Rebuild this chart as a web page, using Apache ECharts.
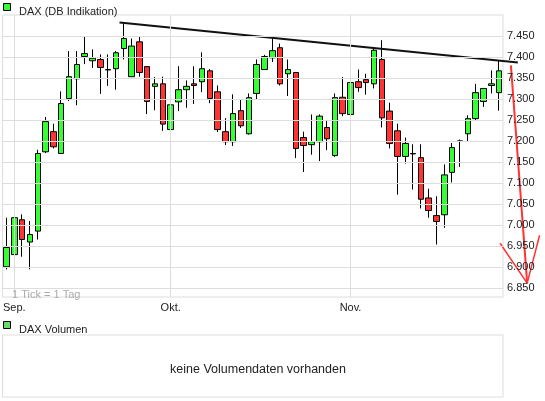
<!DOCTYPE html>
<html lang="de">
<head>
<meta charset="UTF-8">
<title>DAX (DB Indikation)</title>
<script src="https://cdn.jsdelivr.net/npm/echarts/dist/echarts.min.js"></script>
<style>
  html, body { margin: 0; padding: 0; background: #fff; }
  #chart { width: 545px; height: 401px; }
</style>
</head>
<body>
<div id="chart"></div>
<script>
// Tageskerzen 31.08. bis 27.11.
let openV  = [6900,6929,7012,6959,6985,7174,7222,7170,7301,7348,7401,7391,7394,7370,7372,7420,7353,7436,7377,7330,7336,7227,7293,7322,7336,7341,7367,7317,7222,7198,7272,7217,7313,7370,7398,7422,7360,7363,7208,7191,7198,7232,7165,7304,7263,7341,7346,7336,7394,7271,7224,7163,7170,7160,7064,7022,7024,7125,7199,7217,7253,7294,7332,7315];
let closeV = [6946,7017,6965,6977,7170,7246,7186,7289,7353,7382,7408,7397,7375,7369,7410,7444,7426,7363,7294,7336,7240,7286,7322,7330,7332,7372,7301,7227,7198,7265,7236,7303,7382,7401,7415,7336,7370,7182,7189,7198,7259,7205,7303,7265,7339,7327,7339,7416,7255,7194,7163,7194,7169,7061,7034,7008,7119,7184,7200,7253,7315,7325,7336,7367];
let lowV   = [6894,6924,6924,6894,6965,7171,7182,7170,7295,7285,7383,7374,7312,7331,7322,7394,7353,7353,7264,7273,7224,7205,7271,7279,7288,7316,7290,7221,7190,7188,7231,7215,7298,7370,7388,7332,7307,7159,7126,7167,7152,7178,7162,7259,7249,7317,7310,7325,7232,7182,7072,7146,7084,7039,7017,6953,6993,7101,7138,7198,7248,7281,7313,7272];
let highV  = [7017,7025,7025,7009,7179,7257,7241,7318,7414,7414,7449,7418,7406,7406,7414,7479,7444,7449,7377,7352,7353,7344,7378,7344,7378,7411,7371,7332,7254,7311,7299,7313,7394,7405,7444,7432,7394,7363,7222,7263,7263,7249,7313,7352,7360,7370,7360,7424,7440,7291,7241,7208,7192,7192,7086,7068,7144,7195,7203,7261,7336,7325,7368,7392];
let days = openV.map((v, i) => String(i));
let monthLabels = { 1: 'Sep.', 21: 'Okt.', 44: 'Nov.' };
let yTicks = [6850,6900,6950,7000,7050,7100,7150,7200,7250,7300,7350,7400,7450];
// Zeichnungen (Index, Wert)
let trendLine = [[14.6, 7482], [66, 7387]];
let redStroke = [[65.1, 7380], [65.9, 7182], [67.2, 6861]];
let redArms = [[63.7, 6956], [67.2, 6861], [68.8, 6975]];

let candles = openV.map((o, i) => [o, closeV[i], lowV[i], highV[i]]);
let fmt = v => (v / 1000).toFixed(3);
let txt = { fontFamily: 'Liberation Sans, Arial, sans-serif', fontSize: 11, color: '#222' };
let band = 500.5 / openV.length;

let chart = echarts.init(document.getElementById('chart'));
chart.setOption({
  animation: false,
  title: [
    { text: 'DAX (DB Indikation)', left: 14, top: 1, textStyle: Object.assign({ fontWeight: 'normal' }, txt) },
    { text: 'DAX Volumen', left: 14, top: 319, textStyle: Object.assign({ fontWeight: 'normal' }, txt) },
    { text: 'keine Volumendaten vorhanden', left: 253, top: 358, textAlign: 'center', textStyle: Object.assign({ fontWeight: 'normal' }, txt, { fontSize: 12.5 }) },
    { text: '1 Tick = 1 Tag', left: 7, top: 284, textStyle: Object.assign({ fontWeight: 'normal' }, txt, { color: '#aaa' }) }
  ],
  graphic: [
    { type: 'rect', shape: { x: 3.5, y: 3.5, width: 7, height: 7 }, style: { fill: '#33ff33', stroke: '#000' } },
    { type: 'rect', shape: { x: 3.5, y: 321.5, width: 7, height: 7 }, style: { fill: '#66dd66', stroke: '#000' } }
  ],
  grid: [
    { left: 2.5, top: 15, width: 500.5, height: 282, show: true, borderColor: '#ddd', borderWidth: 1 },
    { left: 2.5, top: 335, width: 500.5, height: 62, show: true, borderColor: '#ddd', borderWidth: 1 },
    // Zeichenebene, breiter als der Kursbereich
    { left: 2.5, top: 15, width: band * 70, height: 282, show: false }
  ],
  xAxis: [
    {
      type: 'category', data: days, gridIndex: 0, boundaryGap: true,
      axisLine: { show: false }, axisTick: { show: false }, splitLine: { show: false },
      axisLabel: Object.assign({ interval: 0, margin: 5, formatter: (v, i) => monthLabels[i] || '' }, txt)
    },
    { type: 'value', gridIndex: 2, min: -0.5, max: 69.5, show: false },
    { type: 'value', gridIndex: 1, show: false }
  ],
  yAxis: [
    { type: 'value', gridIndex: 0, min: 6828, max: 7500, show: false },
    { type: 'value', gridIndex: 1, show: false },
    { type: 'value', gridIndex: 2, min: 6828, max: 7500, show: false }
  ],
  series: [
    {
      type: 'line', data: [], z: 0, silent: true,
      markLine: {
        silent: true, symbol: 'none', animation: false,
        lineStyle: { color: '#dddddd', type: 'solid', width: 1 },
        data: yTicks.map(v => ({ yAxis: v, label: Object.assign({ show: true, position: 'end', distance: 4, formatter: fmt(v) }, txt) }))
          .concat(Object.keys(monthLabels).map(k => ({ xAxis: Number(k), label: { show: false } })))
      }
    },
    {
      name: 'DAX (DB Indikation)', type: 'candlestick', data: candles, barWidth: 6, z: 2,
      itemStyle: { color: '#33ff33', color0: '#ff3333', borderColor: '#000', borderColor0: '#000', borderWidth: 1 }
    },
    {
      type: 'line', xAxisIndex: 1, yAxisIndex: 2, data: trendLine, symbol: 'none', z: 3,
      lineStyle: { color: '#111', width: 2 }
    },
    {
      type: 'line', xAxisIndex: 1, yAxisIndex: 2, data: redStroke, symbol: 'none', smooth: 0.3, z: 3,
      lineStyle: { color: '#ff3333', width: 2 }
    },
    {
      type: 'line', xAxisIndex: 1, yAxisIndex: 2, data: redArms, symbol: 'none', z: 3,
      lineStyle: { color: '#ff3333', width: 1.5 }
    }
  ]
});
</script>
</body>
</html>
